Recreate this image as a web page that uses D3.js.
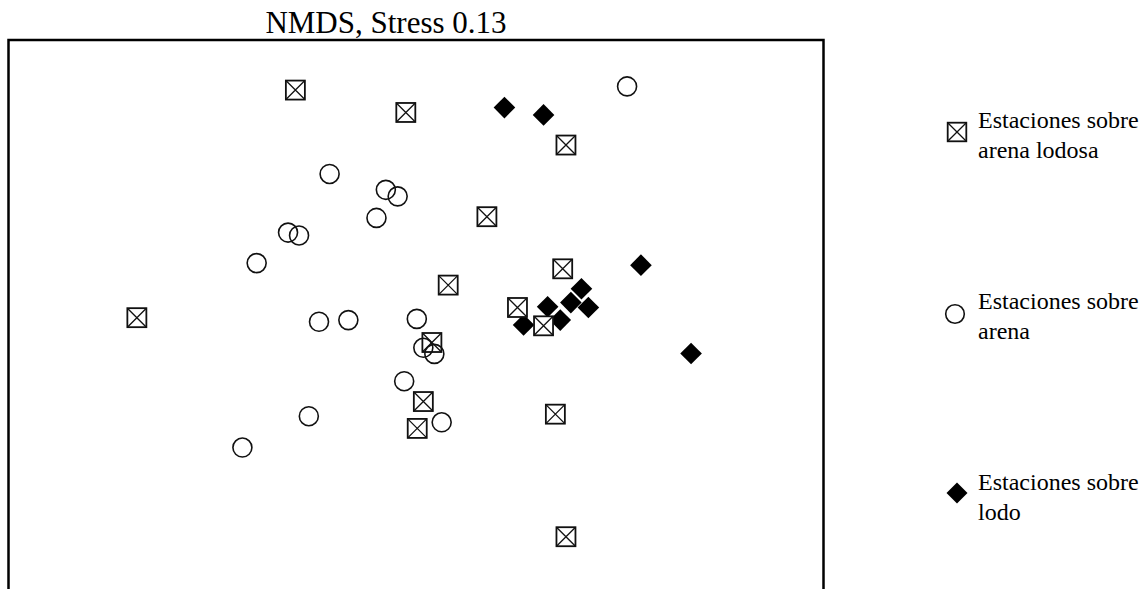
<!DOCTYPE html>
<html>
<head>
<meta charset="utf-8">
<script src="https://cdn.jsdelivr.net/npm/d3@7"></script>
<style>
  html, body { margin: 0; padding: 0; background: #fff; }
  svg { display: block; }
  text { font-family: "Liberation Serif", "Times New Roman", serif; fill: #000; }
</style>
</head>
<body>
<svg id="chart" width="1145" height="589"></svg>
<script>
// NMDS coordinates (axis 1, axis 2)
const arenaLodosaX = [-0.296, -0.025, 0.368, 0.174, 0.360, 0.079, -0.685, 0.249, 0.313, 0.039, 0.018, 0.003, 0.342, 0.368];
const arenaLodosaY = [0.577, 0.522, 0.442, 0.266, 0.138, 0.098, 0.018, 0.043, -0.002, -0.043, -0.188, -0.254, -0.219, -0.520];

const arenaX = [0.518, -0.212, -0.074, -0.045, -0.097, -0.314, -0.287, -0.391, -0.238, -0.166, 0.002, 0.018, 0.045, -0.029, -0.263, 0.063, -0.426];
const arenaY = [0.586, 0.371, 0.332, 0.316, 0.263, 0.227, 0.220, 0.152, 0.008, 0.012, 0.015, -0.056, -0.071, -0.138, -0.224, -0.239, -0.301];

const lodoX = [0.217, 0.313, 0.552, 0.406, 0.323, 0.380, 0.423, 0.354, 0.264, 0.675];
const lodoY = [0.534, 0.516, 0.147, 0.089, 0.045, 0.055, 0.043, 0.012, 0.000, -0.070];

const legendLabels = [
  ["Estaciones sobre", "arena lodosa"],
  ["Estaciones sobre", "arena"],
  ["Estaciones sobre", "lodo"]
];
const titleText = "NMDS, Stress 0.13";

const svg = d3.select("#chart");

const x = d3.scaleLinear().domain([-1, 1]).range([8.5, 823.5]);
const y = d3.scaleLinear().domain([-0.70, 0.70]).range([610, 40]);

// frame
svg.append("rect")
  .attr("x", x(-1)).attr("y", y(0.70))
  .attr("width", x(1) - x(-1)).attr("height", y(-0.70) - y(0.70))
  .attr("fill", "none").attr("stroke", "#000").attr("stroke-width", 2.5);

// title
svg.append("text")
  .attr("x", 386).attr("y", 33)
  .attr("text-anchor", "middle")
  .attr("font-size", 31)
  .text(titleText);

const sq = 9.5, rc = 9.5, dm = 10.8;

function drawSquare(g, cx, cy, s) {
  g.append("rect").attr("x", cx - s).attr("y", cy - s).attr("width", 2 * s).attr("height", 2 * s)
    .attr("fill", "#fff").attr("stroke", "#111").attr("stroke-width", 1.8);
  g.append("path").attr("d", `M${cx - s},${cy - s}L${cx + s},${cy + s}M${cx + s},${cy - s}L${cx - s},${cy + s}`)
    .attr("stroke", "#111").attr("stroke-width", 1.3).attr("fill", "none");
}
function drawCircle(g, cx, cy, r) {
  g.append("circle").attr("cx", cx).attr("cy", cy).attr("r", r)
    .attr("fill", "none").attr("stroke", "#111").attr("stroke-width", 1.6);
}
function drawDiamond(g, cx, cy, d) {
  g.append("path").attr("d", `M${cx},${cy - d}L${cx + d},${cy}L${cx},${cy + d}L${cx - d},${cy}Z`)
    .attr("fill", "#000");
}

const marks = svg.append("g");
lodoX.forEach((v, i) => drawDiamond(marks, x(v), y(lodoY[i]), dm));
arenaLodosaX.forEach((v, i) => drawSquare(marks, x(v), y(arenaLodosaY[i]), sq));
arenaX.forEach((v, i) => drawCircle(marks, x(v), y(arenaY[i]), rc));

// legend
const legendTop = [128, 309, 490];
const lg = svg.append("g");
legendLabels.forEach((lines, i) => {
  const by = legendTop[i];
  if (i === 0) drawSquare(lg, 957, by + 4, 9.3);
  if (i === 1) drawCircle(lg, 955, by + 5, 9.3);
  if (i === 2) drawDiamond(lg, 957, by + 3, 10.5);
  lines.forEach((t, j) => {
    lg.append("text").attr("x", 978).attr("y", by + j * 29.5)
      .attr("font-size", 24).text(t);
  });
});
</script>
</body>
</html>
